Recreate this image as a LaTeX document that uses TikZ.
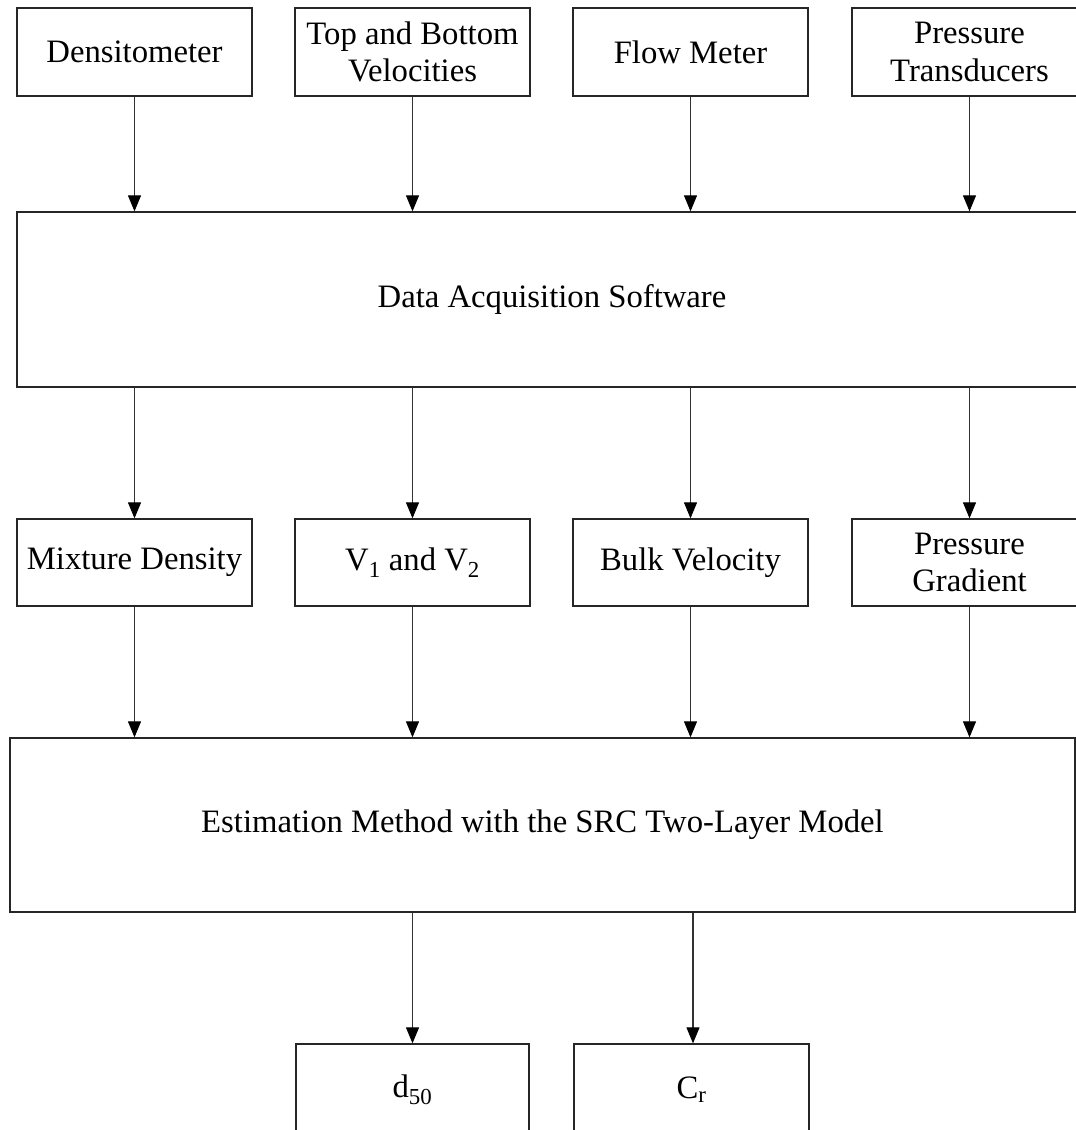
\documentclass[tikz,border=0pt]{standalone}
\usepackage{fontspec}
\setmainfont{Liberation Serif}
\usetikzlibrary{arrows.meta}

\tikzset{
  box/.style={draw=black!85, line width=1.3pt, rectangle, inner sep=0pt,
    align=center, font=\fontsize{32.7}{37.6}\selectfont},
  smallbox/.style={box, minimum width=235pt, minimum height=88pt},
  flow/.style={draw=black!80, line width=1.1pt,
    -{Triangle[length=16pt,width=13pt,fill=black,color=black]}},
}

\begin{document}
\begin{tikzpicture}[x=1pt,y=-1pt]
  \useasboundingbox (0,0) rectangle (1076,1130);
  \clip (0,0) rectangle (1076,1130);

  % sensors
  \node[smallbox] (dens) at (134.5,52) {Densitometer};
  \node[smallbox] (tbv)  at (412.5,52) {Top and Bottom\\Velocities};
  \node[smallbox] (fm)   at (690.5,52) {Flow Meter};
  \node[smallbox] (pt)   at (969.5,52) {Pressure\\Transducers};

  % acquisition
  \node[box, minimum width=1070pt, minimum height=175pt] (das) at (552,299.5)
    {Data Acquisition Software};

  % measured quantities
  \node[smallbox, minimum height=87pt] (md) at (134.5,562.5) {Mixture Density};
  \node[smallbox, minimum height=87pt] (vv) at (412.5,562.5)
    {V\textsubscript{1} and V\textsubscript{2}};
  \node[smallbox, minimum height=87pt] (bv) at (690.5,562.5) {Bulk Velocity};
  \node[smallbox, minimum height=87pt] (pg) at (969.5,562.5) {Pressure\\Gradient};

  % estimation
  \node[box, minimum width=1065pt, minimum height=174pt] (est) at (542.5,825)
    {Estimation Method with the SRC Two-Layer Model};

  % results
  \node[box, minimum width=233pt, minimum height=92pt] (d50) at (412.5,1090)
    {d\textsubscript{50}};
  \node[box, minimum width=235pt, minimum height=92pt] (cr) at (691.5,1090)
    {C\textsubscript{r}};

  % connectors
  \foreach \s in {dens,tbv,fm,pt}
    \draw[flow] (\s.south) -- (\s.south |- das.north);
  \foreach \s in {md,vv,bv,pg}
    \draw[flow] (\s.south |- das.south) -- (\s.north);
  \foreach \s in {md,vv,bv,pg}
    \draw[flow] (\s.south) -- (\s.south |- est.north);
  \draw[flow] (d50.north |- est.south) -- (d50.north);
  \draw[flow] ([xshift=1.5pt]cr.north |- est.south) -- ([xshift=1.5pt]cr.north);
\end{tikzpicture}
\end{document}
